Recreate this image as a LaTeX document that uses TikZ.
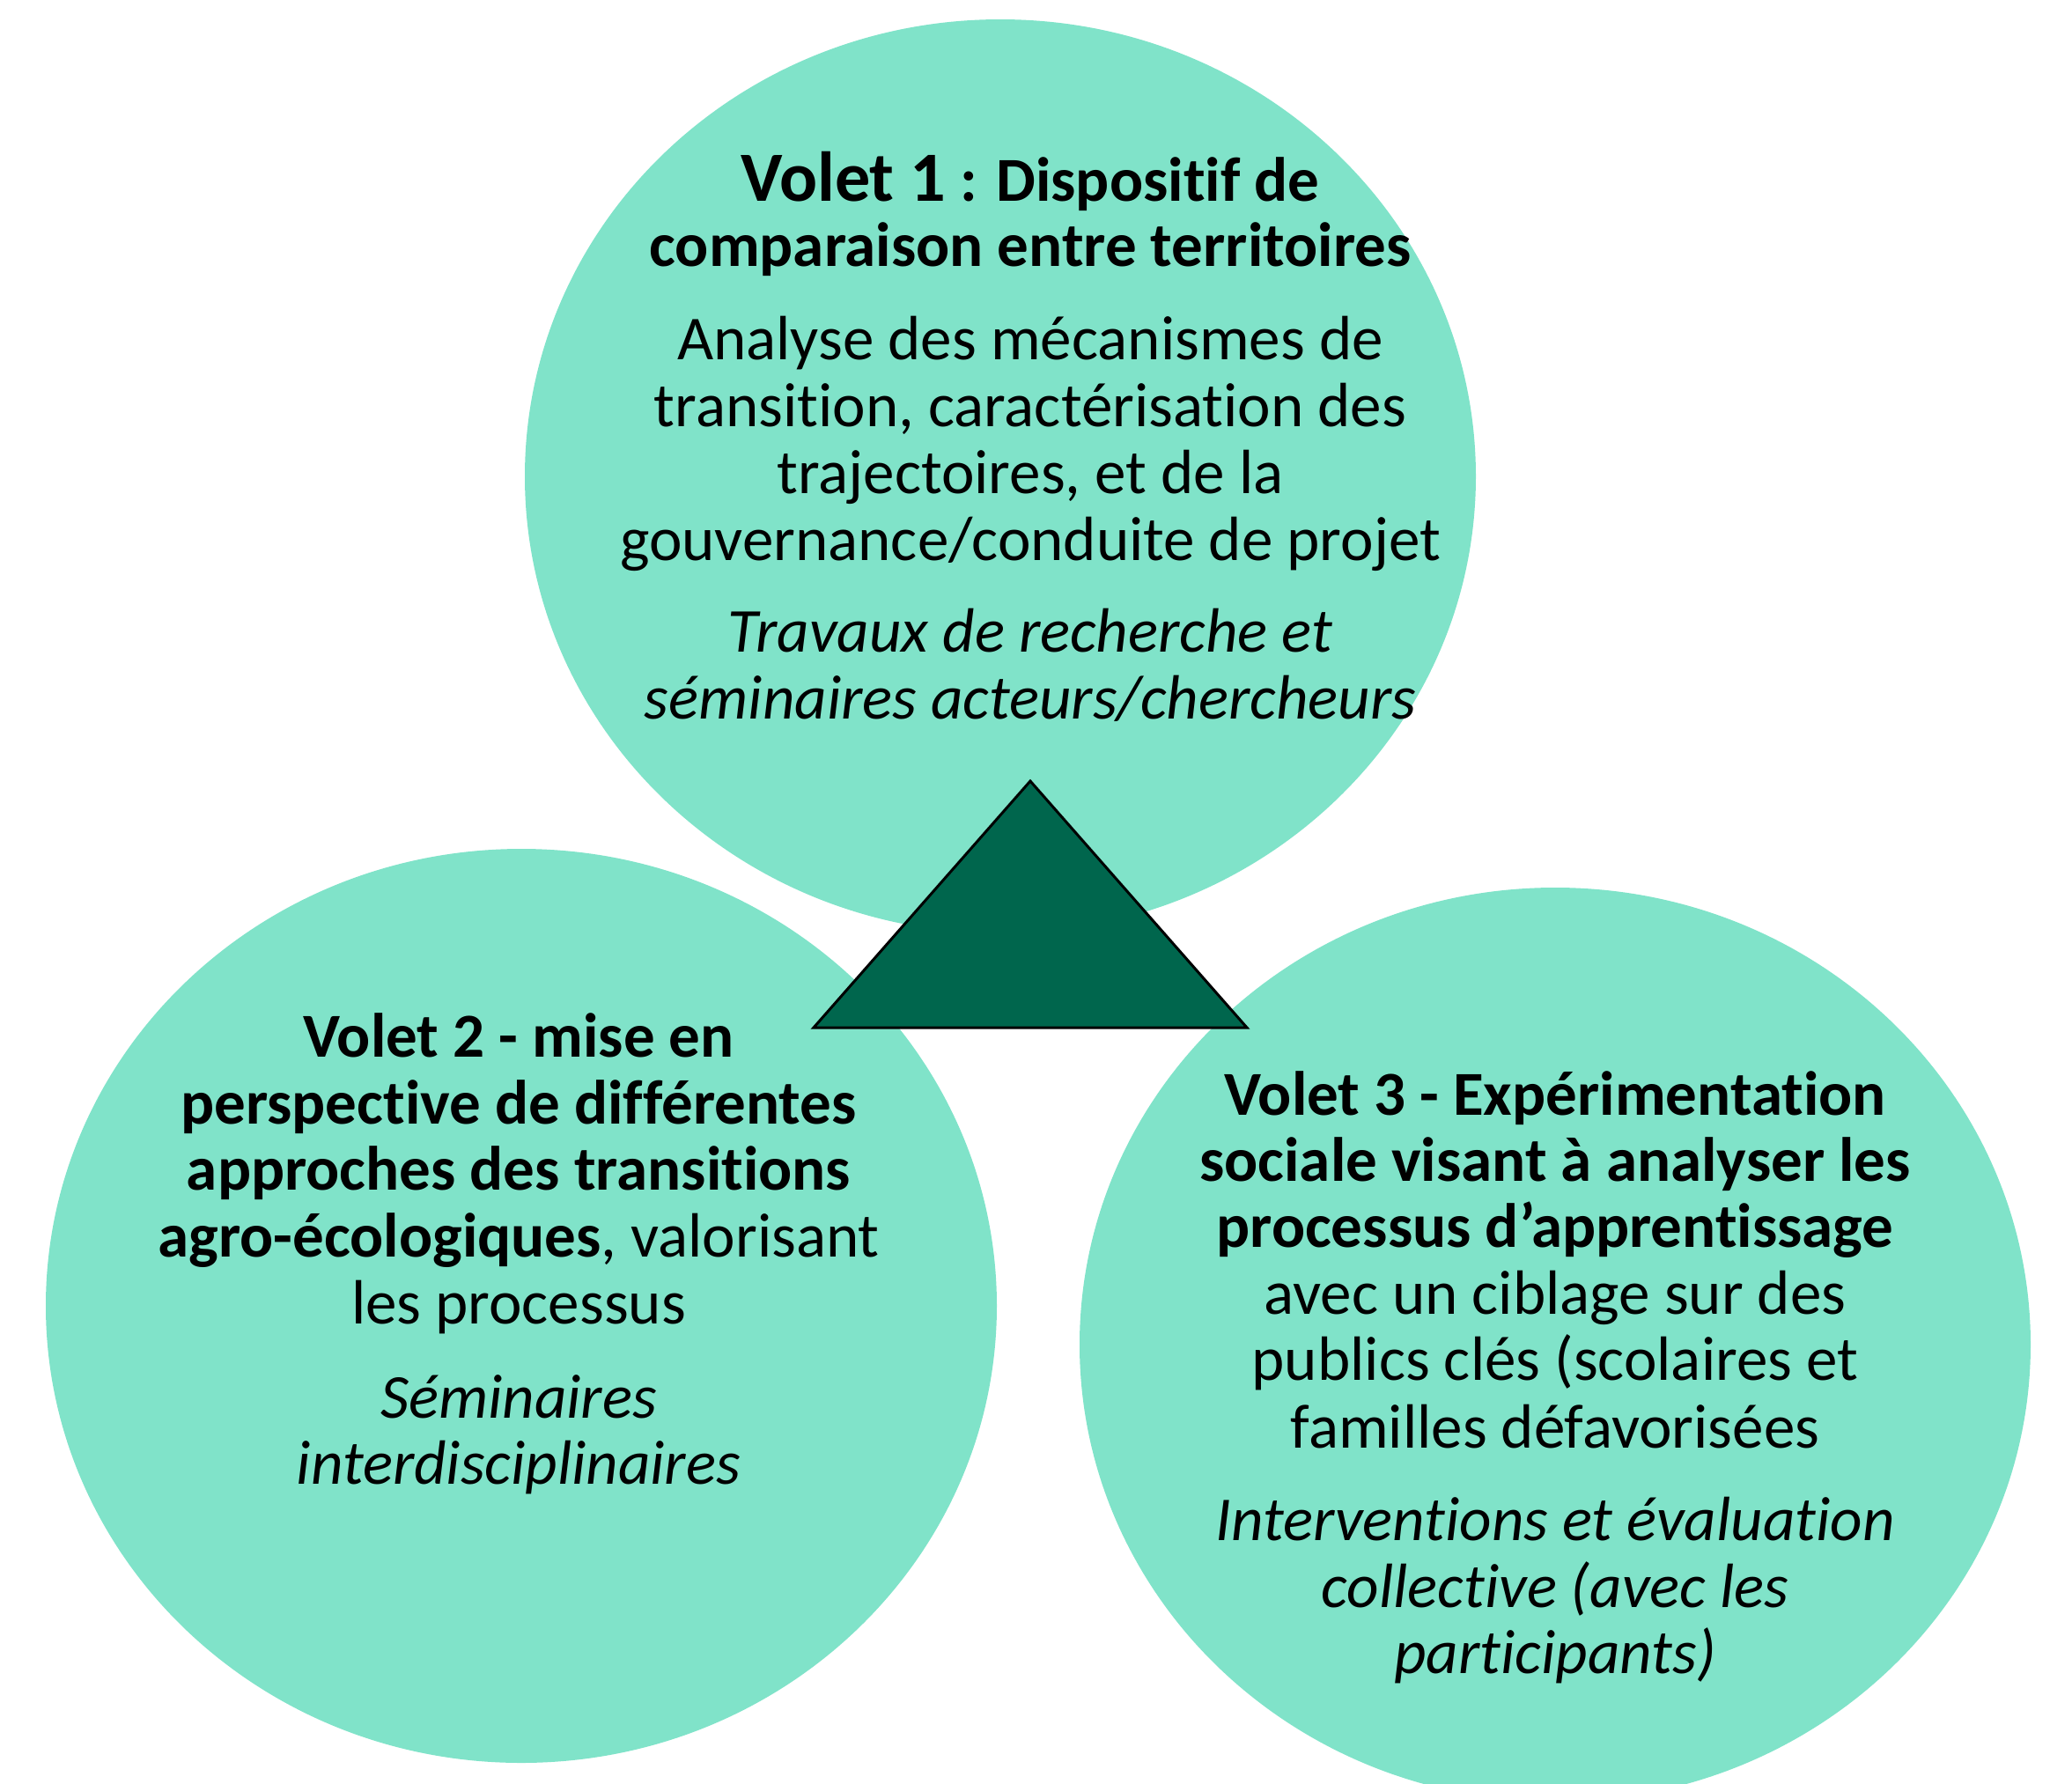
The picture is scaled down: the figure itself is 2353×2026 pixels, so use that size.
\documentclass[tikz,border=0pt]{standalone}
\usepackage{fontspec}
\setmainfont{Carlito}[Ligatures=NoCommon]
\definecolor{teal1}{RGB}{128,227,201}
\definecolor{dgreen}{RGB}{0,102,77}
\begin{document}
\begin{tikzpicture}[x=0.01cm,y=-0.01cm,
  disc/.style={fill=teal1,draw=none},
  rg/.style={anchor=base,inner sep=0pt,font=\fontsize{20.2}{21.5}\selectfont},
  bd/.style={rg,font=\fontsize{20.2}{21.5}\selectfont\bfseries},
  it/.style={rg,font=\fontsize{20.2}{21.5}\selectfont\itshape}]
\useasboundingbox (0,0) rectangle (2353,2026);
% circles
\fill[disc] (1136,541) ellipse [x radius=540, y radius=519];
\fill[disc] (592,1483) ellipse [x radius=540, y radius=519];
\fill[disc] (1766,1527) ellipse [x radius=540, y radius=519];
% triangle
\coordinate (tA) at (1170,887);
\coordinate (tB) at (924,1167);
\coordinate (tC) at (1416,1167);
\draw[fill=dgreen,draw=black,line width=0.85pt,line join=miter] (tA) -- (tB) -- (tC) -- cycle;
% Volet 1
\node[bd] (a1) at (1170,228) {{\fontsize{22.8}{21.5}\selectfont Volet 1} : Dispositif de};
\node[bd] (a2) at (1170,302) {comparaison entre territoires};
\node[rg] (a3) at (1170,408) {Analyse des mécanismes de};
\node[rg] (a4) at (1170,484) {transition, caractérisation des};
\node[rg] (a5) at (1170,560) {trajectoires, et de la};
\node[rg] (a6) at (1170,636) {gouvernance/conduite de projet};
\node[it] (a7) at (1170,740) {Travaux de recherche et};
\node[it] (a8) at (1170,816) {séminaires acteurs/chercheurs};
% Volet 2
\node[bd] (b1) at (589,1200) {Volet 2 - mise en};
\node[bd] (b2) at (589,1276) {perspective de différentes};
\node[bd] (b3) at (589,1351) {approches des transitions};
\node[rg] (b4) at (589,1427) {{\bfseries agro-écologiques}, valorisant};
\node[rg] (b5) at (589,1503) {les processus};
\node[it] (b6) at (589,1610) {Séminaires};
\node[it] (b7) at (589,1685) {interdisciplinaires};
% Volet 3
\node[bd] (c1) at (1766,1266) {Volet 3 - Expérimentation};
\node[bd] (c2) at (1766,1341) {sociale visant à analyser les};
\node[bd] (c3) at (1766,1416) {processus d’apprentissage};
\node[rg] (c4) at (1766,1492) {avec un ciblage sur des};
\node[rg] (c5) at (1766,1567) {publics clés (scolaires et};
\node[rg] (c6) at (1766,1644) {familles défavorisées};
\node[it] (c7) at (1766,1749) {Interventions et évaluation};
\node[it] (c8) at (1766,1825) {collective (avec les};
\node[it] (c9) at (1766,1900) {participants)};
\end{tikzpicture}
\end{document}
